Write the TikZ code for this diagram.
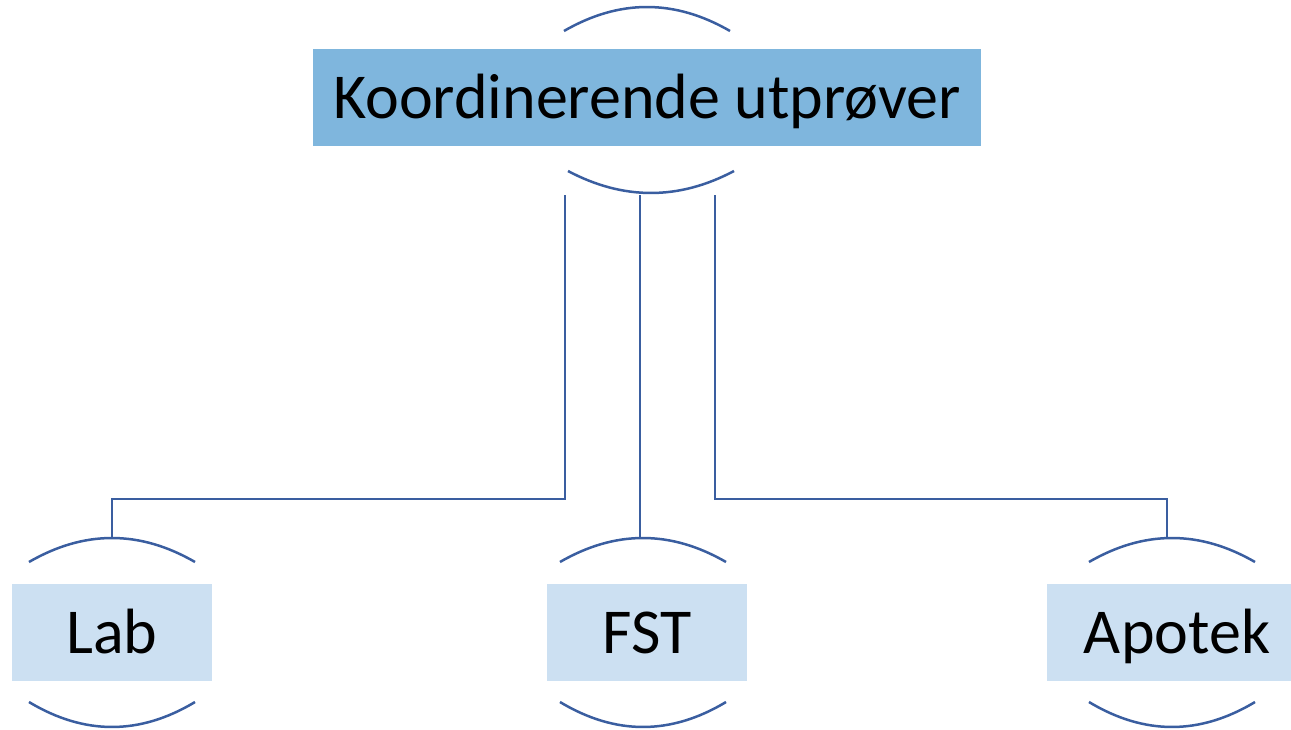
\documentclass[tikz,border=0pt]{standalone}
\usepackage{fontspec}
\setmainfont{Carlito}
\definecolor{boxdark}{RGB}{127,182,221}
\definecolor{boxlight}{RGB}{204,224,242}
\definecolor{linkblue}{RGB}{58,94,160}
\tikzset{
  boxtext/.style={inner sep=0pt, minimum height=97pt, text height=41pt, text depth=0pt,
    font=\fontsize{64}{64}\selectfont},
  mainbox/.style={boxtext, fill=boxdark, minimum width=668pt},
  subbox/.style={boxtext, fill=boxlight, minimum width=200pt},
  bracket/.style={draw=linkblue, line width=2.5pt},
  link/.style={draw=linkblue, line width=2pt}
}
\begin{document}
\begin{tikzpicture}[x=1pt, y=-1pt]
\useasboundingbox (0,0) rectangle (1291,729);
\clip (0,0) rectangle (1291,729);

% boxes
\node[mainbox] (coord) at (647,97.5) {Koordinerende utprøver};
\node[subbox] (lab) at (112,632.5) {Lab};
\node[subbox] (fst) at (647,632.5) {FST};
\node[subbox, minimum width=260pt] (apotek) at (1177,632.5) {Apotek};

% curved brackets above and below each box
\draw[bracket] (564,31) .. controls (619.3,-1) and (674.7,-1) .. (730,31);
\draw[bracket] (568,171) .. controls (623.3,200.3) and (678.7,200.3) .. (734,171);
\draw[bracket] (29,562) .. controls (84.3,530) and (139.7,530) .. (195,562);
\draw[bracket] (29,702) .. controls (84.3,735.3) and (139.7,735.3) .. (195,702);
\draw[bracket] (560,562) .. controls (615.3,530) and (670.7,530) .. (726,562);
\draw[bracket] (560,702) .. controls (615.3,735.3) and (670.7,735.3) .. (726,702);
\draw[bracket] (1089,562) .. controls (1144.3,530) and (1199.7,530) .. (1255,562);
\draw[bracket] (1089,702) .. controls (1144.3,735.3) and (1199.7,735.3) .. (1255,702);

% connector ends
\coordinate (outL) at (565,195);
\coordinate (outM) at (640,195);
\coordinate (outR) at (715,195);
\coordinate (inLab) at (112,538);
\coordinate (inFst) at (640,538);
\coordinate (inApotek) at (1167,538);

% connectors
\draw[link] (outL) -- (565,499) -| (inLab);
\draw[link] (outM) -- (inFst);
\draw[link] (outR) -- (715,499) -| (inApotek);
\end{tikzpicture}
\end{document}
